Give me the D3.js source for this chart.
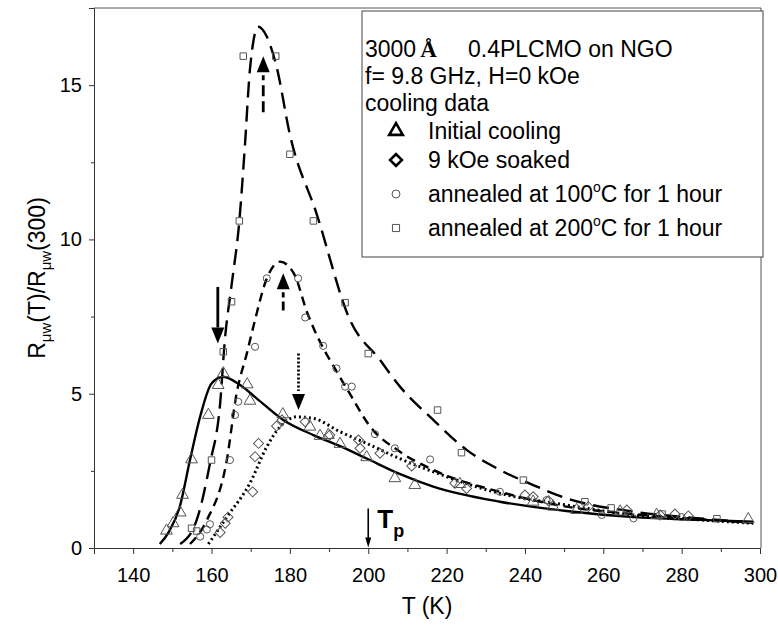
<!DOCTYPE html>
<html>
<head>
<meta charset="utf-8">
<script src="https://cdn.jsdelivr.net/npm/d3@7"></script>
<style>
  body { margin: 0; background: #fff; }
  text { font-family: "Liberation Sans", Arial, sans-serif; fill: #000; }
</style>
</head>
<body>
<svg id="chart" width="778" height="631"></svg>
<script>
// axis ticks
var xTicks = [140, 160, 180, 200, 220, 240, 260, 280, 300];
var xMinor = [150, 170, 190, 210, 230, 250, 270, 290];
var yTicks = [0, 5, 10, 15];
var yMinor = [2.5, 7.5, 12.5];

// fitted curves [T, R]
var initialFit = [[146.8,0.13],[149,0.5],[151.9,1.34],[154.5,2.85],[157.1,4.26],[160,5.33],[163,5.55],[167.3,5.28],
  [171.5,4.85],[178.3,4.15],[186,3.66],[192.8,3.3],[199.6,2.9],[208,2.4],[216.6,1.99],[233.6,1.5],[250.6,1.2],
  [267.7,1.0],[284.7,0.91],[298.3,0.85]];
var soakedFit = [[159.2,0.13],[163.9,1.0],[169.8,2.1],[174.1,3.28],[177.5,3.93],[181.7,4.25],[186,4.2],[192.8,3.77],
  [199.6,3.39],[208,2.9],[216.6,2.47],[233.6,1.77],[250.6,1.39],[267.7,1.07],[284.7,0.91],[298.3,0.8]];
var anneal100Fit = [[154.5,0.13],[158.8,0.9],[163.9,2.85],[166.4,5.01],[169,6.3],[171.1,7.39],[174,8.7],[177.5,9.28],
  [181,8.9],[184.5,7.6],[188,6.6],[191.1,5.9],[195.3,5.0],[200.4,3.95],[208.1,3.12],[216.6,2.53],[233.6,1.82],
  [250.6,1.34],[267.7,1.1],[284.7,0.93],[298.3,0.82]];
var anneal200Fit = [[152,0.13],[156.2,0.9],[159.6,2.74],[162.2,4.69],[163.4,6.74],[165.1,8.5],[167.1,10.6],[168.5,13],
  [169.8,15.5],[171.9,16.89],[174,16.6],[176.6,15.6],[180,13.4],[186.8,10.84],[195.3,7.4],[203,6.09],[208.1,5.23],
  [216.6,4.15],[225.1,3.18],[233.6,2.53],[242.1,2.04],[250.6,1.61],[267.7,1.18],[284.7,0.96],[298.3,0.82]];

// measured points [T, R]
var initialPts = [[148.5,0.56],[150.2,0.8],[152,1.15],[152.6,1.72],[154.9,2.87],[159.2,4.31],[161.7,5.28],[163,5.66],
  [169.1,5.3],[169.8,4.77],[178.2,4.33],[185.1,3.93],[187.7,3.63],[189.8,3.66],[192.8,3.37],[199.6,2.94],[206.8,2.26],
  [211.9,2.04],[223.4,2.07],[242.1,1.5],[247.2,1.34],[253.2,1.23],[264.3,1.18],[273.6,1.07],[297,0.93]];
var soakedPts = [[162.2,0.5],[163.5,0.8],[164.2,1.0],[170.5,1.82],[171.1,2.96],[172,3.39],[176.6,3.95],[178,4.15],
  [183.9,4.09],[190.2,3.66],[197.5,3.5],[197.9,3.23],[203,3.07],[211.1,2.66],[222.1,2.1],[225.1,1.93],[240,1.72],
  [242.1,1.66],[246,1.53],[256.2,1.34],[266,1.23],[274.5,1.07],[278.3,1.1],[281.7,1.04]];
var anneal100Pts = [[157.1,0.37],[158.8,0.6],[159.6,0.77],[164.7,2.85],[166,4.31],[166.8,4.74],[171.1,6.52],[174.1,8.74],
  [182.1,8.74],[183.9,7.47],[188.5,6.55],[191.9,5.82],[194.1,5.23],[195.8,5.23],[201.7,3.69],[206.8,3.23],[215.8,2.87],
  [233.6,1.82],[245.5,1.55],[259.6,1.07],[267.7,0.96],[280,1.0]];
var anneal200Pts = [[154.9,0.64],[156.2,0.55],[160,2.85],[163,6.36],[165.1,7.98],[167.1,10.6],[168.1,15.94],[176.4,15.94],
  [180,12.76],[186,10.6],[194.1,7.95],[200,6.3],[217.7,4.47],[223.8,3.09],[239.6,2.2],[255.3,1.5],[262,1.3],
  [275,1.1],[289,0.95]];

var legendLabels = ["Initial cooling", "9 kOe soaked", "annealed at 100", "annealed at 200"];

// arrows: T, tail R, tip R
var arrows = [
  {t: 161.6, from: 8.46, to: 6.63, dash: null},
  {t: 173.2, from: 14.12, to: 15.94, dash: "11,5"},
  {t: 178.3, from: 7.7, to: 8.9, dash: "9,4"},
  {t: 182.2, from: 6.3, to: 4.47, dash: "2,2"}
];
var tpArrow = {t: 200, from: 1.28, to: 0.02};

var svg = d3.select("#chart");
var x = d3.scaleLinear().domain([130, 300]).range([94, 760]);
var y = d3.scaleLinear().domain([0, 17.5]).range([548, 8]);

var axisColor = "#333";

// frame
svg.append("line").attr("x1", 94).attr("x2", 761).attr("y1", 8).attr("y2", 8)
  .attr("stroke", "#555").attr("stroke-width", 1);
svg.append("line").attr("x1", 761).attr("x2", 761).attr("y1", 8).attr("y2", 548)
  .attr("stroke", "#555").attr("stroke-width", 1);

// x axis
var gx = svg.append("g").attr("transform", "translate(0,548)")
  .call(d3.axisBottom(x).tickValues(xTicks).tickSize(6).tickPadding(14).tickFormat(d3.format("d")));
svg.append("g").attr("transform", "translate(0,548)")
  .call(d3.axisBottom(x).tickValues(xMinor).tickSize(4).tickFormat(""))
  .select(".domain").remove();

// y axis
var gy = svg.append("g").attr("transform", "translate(94,0)")
  .call(d3.axisLeft(y).tickValues(yTicks).tickSize(5).tickPadding(7).tickFormat(d3.format("d")));
svg.append("g").attr("transform", "translate(94,0)")
  .call(d3.axisLeft(y).tickValues(yMinor).tickSize(3).tickFormat(""))
  .select(".domain").remove();

svg.selectAll(".domain, .tick line").attr("stroke", axisColor);
svg.selectAll(".tick text").style("font-size", "20px").attr("fill", "#000");

// axis titles
svg.append("text").attr("x", 427).attr("y", 614).attr("text-anchor", "middle")
  .style("font-size", "23px").text("T (K)");

var yl = svg.append("text").attr("transform", "translate(45,278) rotate(-90)")
  .attr("text-anchor", "middle").style("font-size", "23px");
yl.append("tspan").text("R");
yl.append("tspan").attr("dy", 6).style("font-size", "15px").text("\u03bcw");
yl.append("tspan").attr("dy", -6).text("(T)/R");
yl.append("tspan").attr("dy", 6).style("font-size", "15px").text("\u03bcw");
yl.append("tspan").attr("dy", -6).text("(300)");

// curves
var line = d3.line().x(function(d) { return x(d[0]); }).y(function(d) { return y(d[1]); })
  .curve(d3.curveMonotoneX);

var curves = [
  {data: initialFit, dash: null, w: 2.4},
  {data: soakedFit, dash: "2,3", w: 3},
  {data: anneal100Fit, dash: "9,6", w: 2.4},
  {data: anneal200Fit, dash: "16,8", w: 2.4}
];
svg.append("g").selectAll("path").data(curves).enter().append("path")
  .attr("d", function(d) { return line(d.data); })
  .attr("fill", "none").attr("stroke", "#000")
  .attr("stroke-width", function(d) { return d.w; })
  .attr("stroke-dasharray", function(d) { return d.dash; });

// markers
var symTri = d3.symbol().type(d3.symbolTriangle).size(60);
var symSq = d3.symbol().type(d3.symbolSquare).size(50);
var symCirc = d3.symbol().type(d3.symbolCircle).size(40);
var symSmallSq = d3.symbol().type(d3.symbolSquare).size(42);

var series = [
  {pts: initialPts, sym: symTri, rot: 0},
  {pts: soakedPts, sym: symSq, rot: 45},
  {pts: anneal100Pts, sym: symCirc, rot: 0},
  {pts: anneal200Pts, sym: symSmallSq, rot: 0}
];
series.forEach(function(s) {
  svg.append("g").selectAll("path").data(s.pts).enter().append("path")
    .attr("d", s.sym())
    .attr("transform", function(d) {
      return "translate(" + x(d[0]) + "," + y(d[1]) + ") rotate(" + s.rot + ")";
    })
    .attr("fill", "none").attr("stroke", "#555").attr("stroke-width", 1);
});

// arrows
arrows.forEach(function(a) {
  var ax = x(a.t), tip = y(a.to), tail = y(a.from);
  var dir = tip > tail ? 1 : -1;
  var base = tip - dir * 16;
  svg.append("line").attr("x1", ax).attr("x2", ax).attr("y1", tail).attr("y2", base - dir * (a.dash ? 3 : 0))
    .attr("stroke", "#000").attr("stroke-width", 2.8).attr("stroke-dasharray", a.dash);
  svg.append("path").attr("d", "M" + ax + "," + tip + "L" + (ax - 6.5) + "," + base + "L" + (ax + 6.5) + "," + base + "Z")
    .attr("fill", "#000");
});
(function() {
  var ax = x(tpArrow.t), tip = y(tpArrow.to), tail = y(tpArrow.from);
  svg.append("line").attr("x1", ax).attr("x2", ax).attr("y1", tail).attr("y2", tip - 8)
    .attr("stroke", "#000").attr("stroke-width", 1.6);
  svg.append("path").attr("d", "M" + ax + "," + tip + "L" + (ax - 3) + "," + (tip - 10) + "L" + (ax + 3) + "," + (tip - 10) + "Z")
    .attr("fill", "#000");
  var tp = svg.append("text").attr("x", ax + 9).attr("y", tail + 19).style("font-size", "26px").style("font-weight", "bold");
  tp.append("tspan").text("T");
  tp.append("tspan").attr("dy", 9).style("font-size", "18px").text("p");
})();

// legend
var lg = svg.append("g");
lg.append("rect").attr("x", 362).attr("y", 11).attr("width", 401).attr("height", 246)
  .attr("fill", "#fff").attr("stroke", "#444").attr("stroke-width", 1);
var head = lg.append("text").attr("x", 365).attr("y", 57).style("font-size", "23px");
head.append("tspan").text("3000");
head.append("tspan").attr("dx", 4).style("font-family", "'Liberation Serif', serif").style("font-weight", "bold").text("\u00c5");
lg.append("text").attr("x", 468).attr("y", 57).style("font-size", "23px").text("0.4PLCMO on NGO");
lg.append("text").attr("x", 365).attr("y", 84).style("font-size", "23px").text("f= 9.8 GHz, H=0 kOe");
lg.append("text").attr("x", 365).attr("y", 111).style("font-size", "23px").text("cooling data");

var legRows = [
  {y: 131, sym: d3.symbol().type(d3.symbolTriangle).size(80), rot: 0, w: 2.6, c: "#000"},
  {y: 160, sym: d3.symbol().type(d3.symbolSquare).size(70), rot: 45, w: 2.6, c: "#000"},
  {y: 194, sym: d3.symbol().type(d3.symbolCircle).size(50), rot: 0, w: 1, c: "#555"},
  {y: 228, sym: d3.symbol().type(d3.symbolSquare).size(50), rot: 0, w: 1, c: "#555"}
];
legRows.forEach(function(r, i) {
  lg.append("path").attr("d", r.sym()).attr("transform", "translate(396," + r.y + ") rotate(" + r.rot + ")")
    .attr("fill", "none").attr("stroke", r.c).attr("stroke-width", r.w);
  var t = lg.append("text").attr("x", 428).attr("y", r.y + 8).style("font-size", "23px");
  t.append("tspan").text(legendLabels[i]);
  if (i >= 2) {
    t.append("tspan").attr("dy", -10).style("font-size", "14px").text("o");
    t.append("tspan").attr("dy", 10).text("C for 1 hour");
  }
});
</script>
</body>
</html>
